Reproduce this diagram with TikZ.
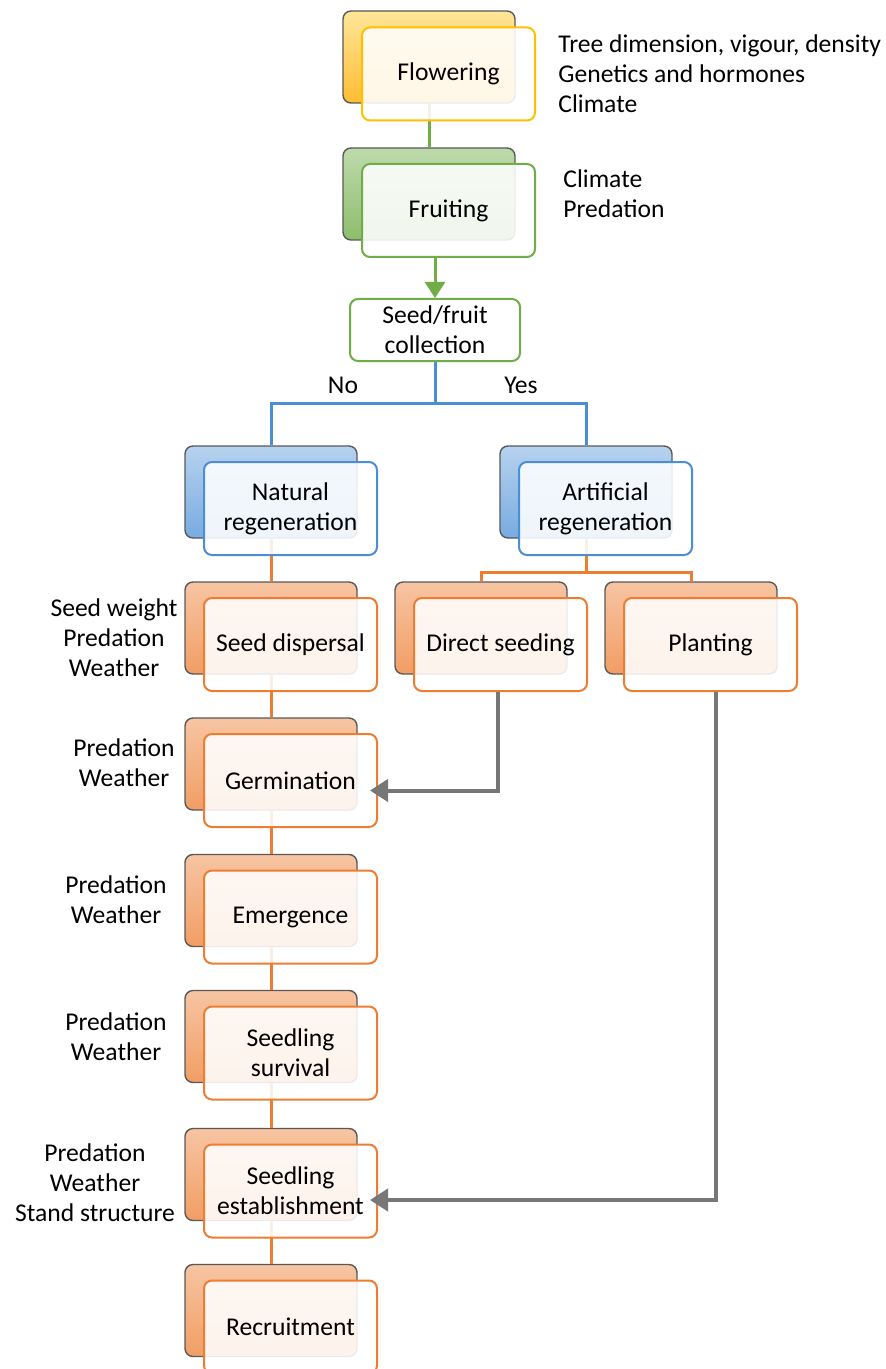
\documentclass[tikz,border=0pt]{standalone}
\usepackage{fontspec}
\setmainfont{Carlito}
\usetikzlibrary{arrows.meta}

\definecolor{gold}{HTML}{FFC000}
\definecolor{leaf}{HTML}{70AD47}
\definecolor{sky}{HTML}{4A8FD6}
\definecolor{rust}{HTML}{ED7D31}
\definecolor{ash}{HTML}{777777}

\begin{document}
\begin{tikzpicture}[x=0.5pt,y=-0.5pt,
    font=\fontsize{12.8}{15}\selectfont,
    backbox/.style={draw=black!65, line width=0.7pt, rounded corners=4pt,
      minimum width=86pt, minimum height=46pt, inner sep=0pt},
    frontbox/.style={line width=1pt, rounded corners=4pt, fill=white,
      fill opacity=0.88, text opacity=1, align=center,
      minimum width=86.5pt, minimum height=46.5pt, inner sep=0pt},
    flwback/.style={backbox, top color=gold!40, bottom color=gold!70!orange!80},
    frtback/.style={backbox, top color=leaf!45, bottom color=leaf!80},
    bluback/.style={backbox, top color=sky!40, bottom color=sky!75},
    orgback/.style={backbox, top color=rust!45, bottom color=rust!75},
    grnline/.style={draw=leaf, line width=1.5pt},
    bluline/.style={draw=sky, line width=1.5pt},
    orgline/.style={draw=rust, line width=1.5pt},
    gryarrow/.style={draw=ash, line width=2pt, shorten >=-4pt,
      -{Triangle[length=9pt,width=11pt]}},
    factors/.style={align=center, inner sep=0pt}]
\useasboundingbox (0,0) rectangle (885,1369);

% back boxes
\node[flwback] (bflw) at (429,57) {};
\node[frtback] (bfrt) at (429,194) {};
\node[bluback] (bnat) at (271,492) {};
\node[bluback] (bart) at (586,492) {};
\node[orgback] (bdsd) at (481,628) {};
\node[orgback] (bpla) at (691,628) {};
\foreach \n/\y in {dis/644.5, ger/780.5, emg/917, srv/1053, est/1191, rec/1327}
  \node[orgback] (b\n) at (271,\y-16.5) {};

% links behind the front boxes
\draw[grnline] (bflw.south) -- (bfrt.north);
\draw[orgline] (bart.south) -- ++(0,34) -| (bdsd.north);
\draw[orgline] (bart.south) -- ++(0,34) -| (bpla.north);
\foreach \a/\b in {nat/dis, dis/ger, ger/emg, emg/srv, srv/est, est/rec}
  \draw[orgline] (b\a.south) -- (b\b.north);

% front boxes
\node[frontbox, draw=gold] (flw) at (448.5,74) {Flowering};
\node[frontbox, draw=leaf] (frt) at (448.5,210.5) {Fruiting};
\node[frontbox, draw=sky] (nat) at (290.5,508.5) {Natural\\regeneration};
\node[frontbox, draw=sky] (art) at (605.5,508.5) {Artificial\\regeneration};
\node[frontbox, draw=rust] (dsd) at (500.5,644.5) {Direct seeding};
\node[frontbox, draw=rust] (pla) at (710.5,644.5) {Planting};
\foreach \n/\t/\y in {dis/Seed dispersal/644.5, ger/Germination/780.5,
    emg/Emergence/917, srv/{Seedling\\survival}/1053,
    est/{Seedling\\establishment}/1191, rec/Recruitment/1327}
  \node[frontbox, draw=rust] (\n) at (290.5,\y) {\t};

\node[draw=leaf, line width=1pt, rounded corners=4pt, fill=white, align=center,
  minimum width=85pt, minimum height=31pt, inner sep=0pt] (coll) at (435,330)
  {Seed/fruit\\collection};

% main links
\draw[grnline, -{Triangle[length=8pt,width=10pt]}] (coll.north |- frt.south) -- (coll.north);
\draw[bluline] (coll.south) -- ++(0,41) coordinate (fork) -| (bnat.north);
\draw[bluline] (fork) -| (bart.north);
\draw[gryarrow] (dsd.south -| 498,0) |- ([yshift=-5pt]ger.east);
\draw[gryarrow] (pla.south -| 716,0) |- ([yshift=-4.5pt]est.east);

\node (no) at (343,385) {No};
\node (yes) at (521,385) {Yes};

% factors
\node[factors, anchor=west, align=left] (fflw) at (558,74)
  {Tree dimension, vigour, density\\Genetics and hormones\\Climate};
\node[factors, anchor=west, align=left] (ffrt) at (563,194) {Climate\\Predation};
\node[factors] (fdis) at (114,638) {Seed weight\\Predation\\Weather};
\node[factors] (fger) at (124,763) {Predation\\Weather};
\node[factors] (femg) at (116,900) {Predation\\Weather};
\node[factors] (fsrv) at (116,1037) {Predation\\Weather};
\node[factors] (fest) at (95,1183) {Predation\\Weather\\Stand structure};
\end{tikzpicture}
\end{document}
